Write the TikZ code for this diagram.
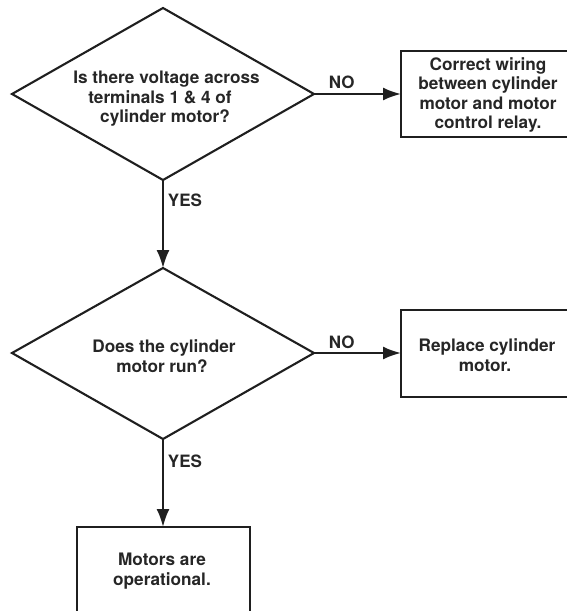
\documentclass[tikz,border=0pt]{standalone}
\usepackage{fontspec}
\setmainfont{TeX Gyre Heros}
\usetikzlibrary{arrows.meta}
\newcommand{\shiftl}[1]{\rule{#1}{0pt}}
\tikzset{
 ln/.style={line width=2.1pt,draw=black!88},
 bxln/.style={line width=2.7pt,draw=black!88,line join=miter},
 txt/.style={font=\bfseries\fontsize{17.2pt}{19.5pt}\selectfont,align=center,text=black!85,inner sep=0pt},
 lab/.style={font=\bfseries\fontsize{17pt}{19.5pt}\selectfont,text=black!85,anchor=base,inner sep=0pt},
 arr/.style={ln,-{Latex[length=18pt,width=13pt]}}
}
\begin{document}
\begin{tikzpicture}[x=1pt,y=-1pt]
\useasboundingbox (0,0) rectangle (566,611);
\draw[ln] (163,8) -- (314,94) -- (163,180) -- (12,94) -- cycle;
\coordinate (d1r) at (314,94);
\coordinate (d1b) at (163,180);
\node[txt] (t1) at (166.5,99) {Is there voltage across\\terminals 1 \& 4 of\shiftl{13pt}\\cylinder motor?\shiftl{3pt}};
\draw[ln] (163,268) -- (314,353) -- (163,439) -- (12,353) -- cycle;
\coordinate (d2t) at (163,268);
\coordinate (d2r) at (314,353);
\coordinate (d2b) at (163,439);
\node[txt] (t2) at (164,356) {Does the cylinder\\motor run?\shiftl{4pt}};
\draw[bxln] (568,51) -- (401,51) -- (401,137) -- (568,137);
\coordinate (b1w) at (401,94);
\node[txt] (t3) at (488,94.8) {Correct wiring\\between cylinder\\motor and motor\\control relay.};
\draw[bxln] (568,310) -- (401,310) -- (401,397) -- (568,397);
\coordinate (b2w) at (401,353);
\node[txt] (t4) at (487,355) {Replace cylinder\\motor.\shiftl{4pt}};
\draw[bxln] (77,613) -- (77,527) -- (250,527) -- (250,613);
\coordinate (b3n) at (163,527);
\node[txt] (t5) at (162,571) {Motors are\\operational.};
\draw[arr] (d1r) -- (b1w);
\draw[arr] (d2r) -- (b2w);
\draw[arr] (d1b) -- (d2t);
\draw[arr] (d2b) -- (b3n);
\node[lab] (n1) at (341.7,88) {NO};
\node[lab] (n2) at (341.7,348) {NO};
\node[lab] (y1) at (185,206) {YES};
\node[lab] (y2) at (185,467) {YES};
\end{tikzpicture}
\end{document}
